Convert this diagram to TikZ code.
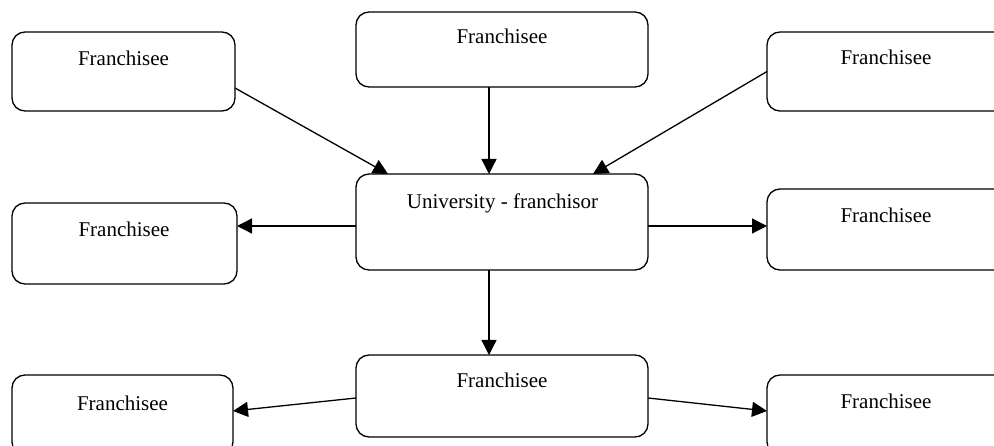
\documentclass[tikz,border=0pt]{standalone}
\usepackage{fontspec}
\setmainfont{Liberation Serif}
\usetikzlibrary{arrows.meta}
\begin{document}
\begin{tikzpicture}[x=1pt,y=-1pt,
  box/.style={draw, line width=1.3pt, rounded corners=13pt, inner sep=0pt, outer sep=0pt},
  lbl/.style={anchor=base, inner sep=0pt, font=\fontsize{21}{25}\selectfont},
  conn/.style={line width=1.3pt, -{Triangle[length=15pt,width=15pt]}}]
\useasboundingbox (0,0) rectangle (994,446);
\clip (0,0) rectangle (994,446);
% boxes
\node[box, minimum width=223pt, minimum height=79pt] (tl) at (123.5,71.5) {};
\node[box, minimum width=292pt, minimum height=75pt] (tc) at (502,49.5) {};
\node[box, minimum width=242pt, minimum height=79pt] (tr) at (888,71.5) {};
\node[box, minimum width=292pt, minimum height=96pt] (c) at (502,222) {};
\node[box, minimum width=225pt, minimum height=81pt] (ml) at (124.5,243.5) {};
\node[box, minimum width=242pt, minimum height=81pt] (mr) at (888,229.5) {};
\node[box, minimum width=292pt, minimum height=82pt] (bc) at (502,396) {};
\node[box, minimum width=221pt, minimum height=80pt] (bl) at (122.5,415) {};
\node[box, minimum width=242pt, minimum height=80pt] (br) at (888,415) {};
% labels
\node[lbl] (tlt) at (123.5,66) {Franchisee};
\node[lbl] (tct) at (502,44) {Franchisee};
\node[lbl] (trt) at (886,65) {Franchisee};
\node[lbl] (ct) at (502.5,209) {University - franchisor};
\node[lbl] (mlt) at (124,237) {Franchisee};
\node[lbl] (mrt) at (886,223) {Franchisee};
\node[lbl] (bct) at (502,388) {Franchisee};
\node[lbl] (blt) at (122.5,410) {Franchisee};
\node[lbl] (brt) at (886,409) {Franchisee};
% connectors
\draw[conn] ([yshift=-16.5pt]tl.east) -- ([xshift=-114pt]c.north);
\draw[conn] ([xshift=-13pt]tc.south) -- ([xshift=-13pt]c.north);
\draw[conn] ([yshift=0pt]tr.west) -- ([xshift=91pt]c.north);
\draw[conn] ([yshift=-4pt]c.west) -- ([yshift=17.5pt]ml.east);
\draw[conn] ([yshift=-4pt]c.east) -- ([yshift=3.5pt]mr.west);
\draw[conn] ([xshift=-13pt]c.south) -- ([xshift=-13pt]bc.north);
\draw[conn] ([yshift=-2pt]bc.west) -- ([yshift=4pt]bl.east);
\draw[conn] ([yshift=-2pt]bc.east) -- ([yshift=4pt]br.west);
\end{tikzpicture}
\end{document}
